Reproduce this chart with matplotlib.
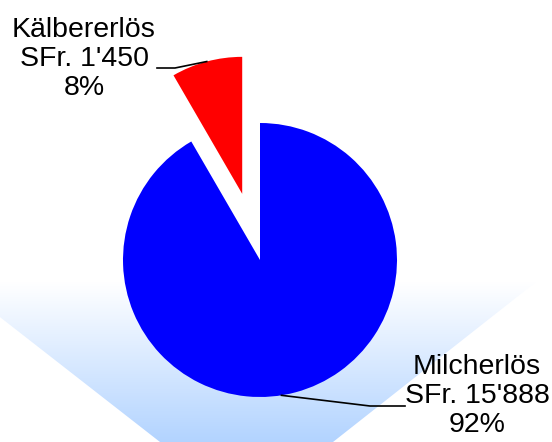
import numpy as np
import matplotlib; matplotlib.use('Agg')
import matplotlib.pyplot as plt
from matplotlib.patches import Polygon

# data
names  = ['Milcherlös', 'Kälbererlös']
values = [15888, 1450]
colors = ['#0000FF', '#FF0000']
explode = [0.0, 0.5]   # fraction of radius

W, H = 552, 442
fig = plt.figure(figsize=(W / 100, H / 100), dpi=100)
ax = fig.add_axes([0, 0, 1, 1])

# floor gradient (trapezoid, fades to white at top)
poly = Polygon([(-45, 160), (536, 160), (333, 0), (160, 0)], closed=True,
               facecolor='none', edgecolor='none')
ax.add_patch(poly)
grad = np.linspace(0, 1, 256)[:, None]
top = np.array([1.0, 1.0, 1.0]); bot = np.array([0.70, 0.83, 1.0])
img = top * (1 - grad[..., None]) + bot * grad[..., None]
im = ax.imshow(img, extent=(-45, 536, 0, 160), origin='upper',
               aspect='auto', zorder=0)
im.set_clip_path(poly)

# pie (explode in matplotlib is absolute, so scale by radius)
cx, cy, R = 260, 182, 137
wedges, _ = ax.pie(values, colors=colors, explode=[e * R for e in explode],
                   startangle=90, counterclock=False, center=(cx, cy),
                   radius=R, wedgeprops=dict(linewidth=0), frame=True)
ax.set_xlim(0, W); ax.set_ylim(0, H)
ax.set_aspect('equal'); ax.axis('off')

total = sum(values)
labels = [f"{n}\nSFr. {v:,}\n{v / total * 100:.0f}%".replace(',', "'")
          for n, v in zip(names, values)]

# label positions / leader lines (pixel layout)
lab_pos = [(477, 46), (84, 383)]
leaders = [[(405, 36), (370, 36)], [(157, 374), (175, 374)]]
anchor_ang = [-81, 105]

for w, lab, pos, lead, ang in zip(wedges, labels, lab_pos, leaders, anchor_ang):
    wx, wy = w.center
    a = np.deg2rad(ang)
    px, py = wx + w.r * np.cos(a), wy + w.r * np.sin(a)
    xs = [p[0] for p in lead] + [px]
    ys = [p[1] for p in lead] + [py]
    ax.plot(xs, ys, color='black', lw=1.2, zorder=5)
    ax.text(pos[0], pos[1], lab, ha='center', va='center', fontsize=20.5,
            family='Liberation Sans', linespacing=1.17, zorder=6)

fig.savefig('out.png', dpi=100, facecolor='white')
